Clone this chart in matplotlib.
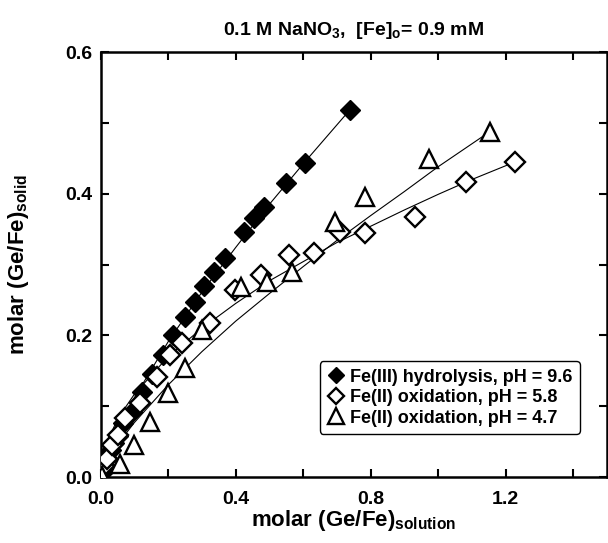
import matplotlib
matplotlib.use("Agg")
import matplotlib.pyplot as plt
from matplotlib.ticker import MultipleLocator

plt.rcParams['font.family'] = ['Liberation Sans', 'DejaVu Sans']
plt.rcParams['font.weight'] = 'bold'
plt.rcParams['axes.labelweight'] = 'bold'
plt.rcParams['axes.titleweight'] = 'bold'
plt.rcParams['mathtext.fontset'] = 'custom'
plt.rcParams['mathtext.rm'] = 'Liberation Sans:bold'
plt.rcParams['mathtext.bf'] = 'Liberation Sans:bold'
plt.rcParams['mathtext.it'] = 'Liberation Sans:bold'

# Fe(III) hydrolysis, pH 9.6 (filled diamonds)
fe3_x = [0.005, 0.012, 0.02, 0.03, 0.04, 0.05, 0.067, 0.092, 0.122, 0.151, 0.186, 0.215,
         0.250, 0.280, 0.307, 0.336, 0.367, 0.425, 0.455, 0.485, 0.550, 0.606, 0.738]
fe3_y = [0.005, 0.015, 0.027, 0.038, 0.048, 0.058, 0.076, 0.092, 0.120, 0.146, 0.172, 0.200,
         0.226, 0.2475, 0.269, 0.290, 0.309, 0.346, 0.365, 0.381, 0.4155, 0.443, 0.518]
# Fe(II) oxidation, pH 5.8 (open diamonds)
ph58_x = [0.0, 0.01, 0.02, 0.035, 0.05, 0.072, 0.117, 0.166, 0.206, 0.240, 0.324, 0.399,
          0.475, 0.557, 0.633, 0.710, 0.784, 0.933, 1.084, 1.229]
ph58_y = [0.008, 0.015, 0.025, 0.045, 0.06, 0.083, 0.104, 0.1416, 0.172, 0.189, 0.217, 0.264,
          0.285, 0.313, 0.316, 0.346, 0.344, 0.3675, 0.417, 0.445]
# Fe(II) oxidation, pH 4.7 (open triangles)
ph47_x = [0.004, 0.057, 0.100, 0.146, 0.199, 0.250, 0.300, 0.415, 0.493, 0.567, 0.695,
          0.782, 0.972, 1.153]
ph47_y = [0.002, 0.019, 0.045, 0.078, 0.118, 0.1535, 0.2075, 0.268, 0.2757, 0.290, 0.360,
          0.395, 0.4485, 0.4875]

# fitted curves
fe3_fit_x = [0.0, 0.02, 0.05, 0.1, 0.2, 0.3, 0.4, 0.5, 0.6, 0.738]
fe3_fit_y = [0.0, 0.033, 0.066, 0.112, 0.191, 0.261, 0.324, 0.385, 0.442, 0.518]
ph58_fit_x = [0.0, 0.02, 0.05, 0.1, 0.2, 0.3, 0.4, 0.5, 0.6, 0.7, 0.8, 0.9, 1.0, 1.1, 1.229]
ph58_fit_y = [0.0, 0.050, 0.082, 0.117, 0.170, 0.210, 0.245, 0.277, 0.304, 0.331, 0.354,
              0.377, 0.399, 0.420, 0.445]
ph47_fit_x = [0.0, 0.02, 0.05, 0.1, 0.2, 0.3, 0.4, 0.5, 0.6, 0.7, 0.8, 0.9, 1.0, 1.153]
ph47_fit_y = [0.0, 0.023, 0.046, 0.077, 0.130, 0.177, 0.220, 0.259, 0.297, 0.334, 0.369,
              0.403, 0.438, 0.4875]

labels = ['Fe(III) hydrolysis, pH = 9.6', 'Fe(II) oxidation, pH = 5.8', 'Fe(II) oxidation, pH = 4.7']

fig = plt.figure(figsize=(6.08, 5.43), dpi=100)
ax = fig.add_axes([0.1656, 0.1215, 0.8324, 0.7827])

for fx, fy in [(fe3_fit_x, fe3_fit_y), (ph58_fit_x, ph58_fit_y), (ph47_fit_x, ph47_fit_y)]:
    ax.plot(fx, fy, color='black', lw=0.8, zorder=2)

ax.plot(fe3_x, fe3_y, ls='none', marker='D', ms=10, mfc='black', mec='black', mew=1.0,
        label=labels[0], zorder=3)
ax.plot(ph58_x, ph58_y, ls='none', marker='D', ms=10, mfc='white', mec='black', mew=1.7,
        label=labels[1], zorder=3)
ax.plot(ph47_x, ph47_y, ls='none', marker='^', ms=13, mfc='white', mec='black', mew=1.7,
        label=labels[2], zorder=3)

ax.set_xlim(0, 1.5)
ax.set_ylim(0, 0.6)
ax.xaxis.set_major_locator(MultipleLocator(0.4))
ax.xaxis.set_minor_locator(MultipleLocator(0.2))
ax.yaxis.set_major_locator(MultipleLocator(0.2))
ax.yaxis.set_minor_locator(MultipleLocator(0.1))
ax.tick_params(which='both', direction='in', top=True, right=True, width=1.5, labelsize=14)
ax.tick_params(which='major', length=6)
ax.tick_params(which='minor', length=6)
ax.tick_params(axis='x', pad=10)
ax.tick_params(axis='y', pad=6)
for s in ax.spines.values():
    s.set_linewidth(1.8)

ax.set_xlabel(r'molar (Ge/Fe)$_{\mathbf{solution}}$', fontsize=16, labelpad=0)
ax.set_ylabel(r'molar (Ge/Fe)$_{\mathbf{solid}}$', fontsize=16)
ax.yaxis.set_label_coords(-0.138, 0.5)
ax.set_title(r'0.1 M NaNO$_\mathbf{3}$,  [Fe]$_\mathbf{o}$= 0.9 mM', fontsize=14, pad=12)

leg = ax.legend(loc='lower right', bbox_to_anchor=(0.965, 0.08), fontsize=13, frameon=True,
                fancybox=True, edgecolor='black', framealpha=1, handletextpad=0.3,
                borderpad=0.4, labelspacing=0.2, handlelength=1.0, markerscale=0.85)
leg.get_frame().set_linewidth(1.0)

fig.savefig('out.png', dpi=100)
